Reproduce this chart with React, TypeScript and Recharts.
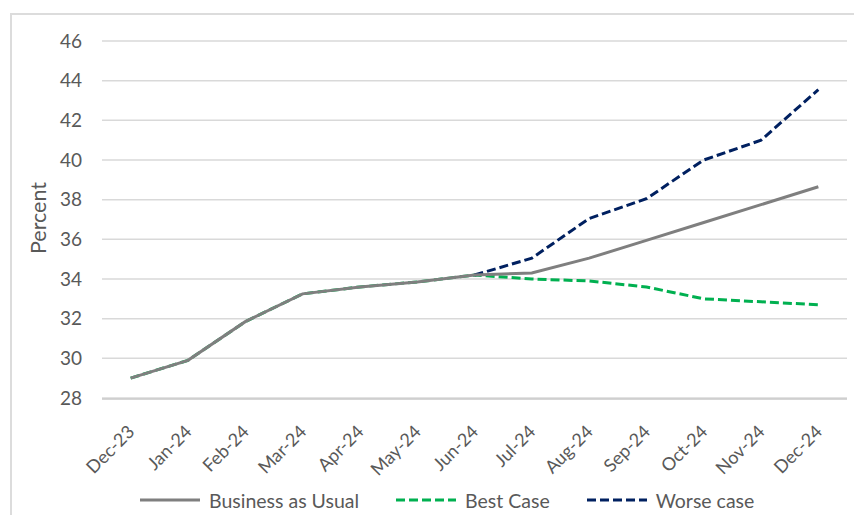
import React from 'react';
import { LineChart, Line, XAxis, YAxis, CartesianGrid, Legend } from 'recharts';

const months = ['Dec-23', 'Jan-24', 'Feb-24', 'Mar-24', 'Apr-24', 'May-24', 'Jun-24', 'Jul-24', 'Aug-24', 'Sep-24', 'Oct-24', 'Nov-24', 'Dec-24'];
const businessAsUsual = [29.0, 29.9, 31.85, 33.25, 33.6, 33.85, 34.2, 34.3, 35.05, 35.95, 36.85, 37.75, 38.65];
const bestCase = [29.0, 29.9, 31.85, 33.25, 33.6, 33.85, 34.2, 34.0, 33.9, 33.6, 33.0, 32.85, 32.7];
const worseCase = [null, null, null, null, null, null, 34.2, 35.05, 37.05, 38.05, 40.0, 41.0, 43.55];
const yTicks = [28, 30, 32, 34, 36, 38, 40, 42, 44, 46];

const FONT = "Lato, 'Liberation Sans', sans-serif";
const TEXT = '#595959';

const series = [
  { key: 'bau', name: 'Business as Usual', color: '#7f7f7f', dash: undefined as string | undefined },
  { key: 'best', name: 'Best Case', color: '#00b050', dash: '9 4' },
  { key: 'worse', name: 'Worse case', color: '#002060', dash: '9 4' },
];

const data = months.map((m, i) => ({
  month: m,
  bau: businessAsUsual[i],
  best: bestCase[i],
  worse: worseCase[i],
}));

const boundaryTicks = [...months.map((_, i) => i), months.length];

const XTick = (props: any) => {
  const { x, y, payload } = props;
  return (
    <g transform={`translate(${x},${y})`}>
      <text
        transform="translate(0,30) rotate(-45)"
        textAnchor="end"
        dominantBaseline="central"
        fill={TEXT}
        fontSize={18}
        fontFamily={FONT}
      >
        {payload.value}
      </text>
    </g>
  );
};

const renderLegend = () => (
  <div style={{ display: 'flex', alignItems: 'center', height: 28, fontFamily: FONT, fontSize: 19.5, color: TEXT, whiteSpace: 'nowrap' }}>
    {series.map((s) => (
      <div key={s.key} style={{ display: 'flex', alignItems: 'center', marginRight: 37 }}>
        <svg width={60} height={6}>
          <line x1={0} y1={3} x2={60} y2={3} stroke={s.color} strokeWidth={3} strokeDasharray={s.dash} />
        </svg>
        <span style={{ marginLeft: 9 }}>{s.name}</span>
      </div>
    ))}
  </div>
);

const PercentLabel = () => (
  <text
    x={38}
    y={218}
    transform="rotate(-90, 38, 218)"
    textAnchor="middle"
    dominantBaseline="central"
    fill={TEXT}
    fontSize={21.5}
    fontFamily={FONT}
  >
    Percent
  </text>
);

export default function App() {
  return (
    <div style={{ position: 'relative', width: 862, height: 523, margin: -8, overflow: 'hidden', background: '#fff' }}>
      <div
        style={{
          position: 'absolute',
          left: 10,
          top: 13,
          width: 880,
          height: 540,
          border: '2px solid #dcdcdc',
          boxSizing: 'border-box',
        }}
      />
      <div style={{ position: 'absolute', left: 0, top: 0 }}>
        <LineChart width={862} height={523} data={data} margin={{ top: 41, right: 15, left: 0, bottom: 95 }}>
          <CartesianGrid vertical={false} stroke="#d9d9d9" strokeWidth={1.5} />
          <XAxis
            dataKey="month"
            type="category"
            height={1}
            padding={{ left: 28.65, right: 28.65 }}
            axisLine={false}
            tickLine={false}
            tickSize={0}
            tickMargin={0}
            interval={0}
            tick={<XTick />}
          />
          <XAxis
            xAxisId="grid"
            type="number"
            domain={[0, months.length]}
            ticks={boundaryTicks}
            allowDataOverflow
            height={1}
            axisLine={{ stroke: '#c8c8c8', strokeWidth: 1.5 }}
            tickLine={{ stroke: '#c8c8c8', strokeWidth: 1.5 }}
            tickSize={6}
            tick={false}
          />
          <YAxis
            domain={[28, 46]}
            ticks={yTicks}
            width={102}
            axisLine={false}
            tickLine={false}
            tickSize={0}
            tickMargin={20}
            tick={{ fill: TEXT, fontSize: 19, fontFamily: FONT }}
            label={<PercentLabel />}
          />
          <Legend content={renderLegend} wrapperStyle={{ left: 140, top: 486, width: 'auto', height: 28 }} />
          <Line dataKey="best" name="Best Case" stroke="#00b050" strokeWidth={3} strokeDasharray="9 4" dot={false} isAnimationActive={false} />
          <Line dataKey="worse" name="Worse case" stroke="#002060" strokeWidth={3} strokeDasharray="9 4" dot={false} isAnimationActive={false} />
          <Line dataKey="bau" name="Business as Usual" stroke="#7f7f7f" strokeWidth={3} dot={false} isAnimationActive={false} />
        </LineChart>
      </div>
    </div>
  );
}
